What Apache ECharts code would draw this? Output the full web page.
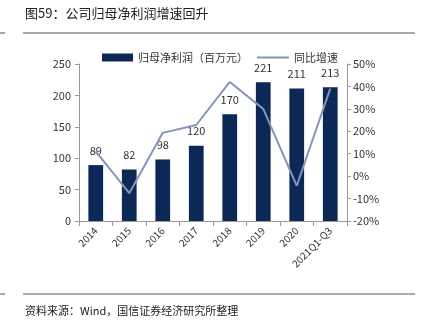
<!DOCTYPE html>
<html><head><meta charset="utf-8">
<script src="https://cdn.jsdelivr.net/npm/echarts@6/dist/echarts.min.js"></script>
<style>html,body{margin:0;padding:0;background:#fff}#c{width:431px;height:322px}</style>
</head><body><div id="c"></div>
<script>
const categories = ['2014','2015','2016','2017','2018','2019','2020','2021Q1-Q3'];
const profit = [89, 82, 98, 120, 170, 221, 211, 213];
const growth = [11, -7.6, 19.3, 22.8, 42, 30, -4.3, 39];
const leftTicks = [0, 50, 100, 150, 200, 250];
const rightTicks = [-20, -10, 0, 10, 20, 30, 40, 50];
const titleText = '图59：公司归母净利润增速回升';
const sourceText = '资料来源：Wind，国信证券经济研究所整理';
const barName = '归母净利润（百万元）';
const lineName = '同比增速';

const chart = echarts.init(document.getElementById('c'), null, {renderer:'canvas'});
const font = '"Noto Sans CJK SC", "Liberation Sans", sans-serif';
chart.setOption({
  animation:false,
  textStyle:{fontFamily:font},
  graphic:[
    {type:'text', left:25, top:7, style:{text:titleText, fontSize:13, fill:'#222', fontFamily:font}},
    {type:'line', shape:{x1:23,y1:33,x2:415,y2:33}, style:{stroke:'#555', lineWidth:1}},
    {type:'line', shape:{x1:0,y1:33,x2:5,y2:33}, style:{stroke:'#555', lineWidth:1}},
    {type:'line', shape:{x1:23,y1:294,x2:415,y2:294}, style:{stroke:'#555', lineWidth:1}},
    {type:'line', shape:{x1:0,y1:294,x2:5,y2:294}, style:{stroke:'#555', lineWidth:1}},
    {type:'text', left:25, top:305, style:{text:sourceText, fontSize:11, fill:'#222', fontFamily:font}}
  ],
  legend:[
    {top:47, left:97, itemWidth:31, itemHeight:8,
     textStyle:{fontSize:11, color:'#333'},
     data:[{name:barName, icon:'rect'}]},
    {top:47, left:252, itemWidth:32, itemHeight:2, itemGap:4,
     textStyle:{fontSize:11, color:'#333'},
     data:[{name:lineName, icon:'rect'}]}
  ],
  grid:{left:79, right:84, top:64, bottom:101},
  xAxis:{
    type:'category', data:categories,
    axisLine:{lineStyle:{color:'#999'}},
    axisTick:{show:true, alignWithLabel:false, length:5, lineStyle:{color:'#999'}},
    axisLabel:{rotate:45, fontSize:10, color:'#333', margin:8, interval:0}
  },
  yAxis:[
    {type:'value', min:0, max:250, interval:50,
     axisLine:{show:true, lineStyle:{color:'#999'}},
     axisTick:{show:true, length:4, lineStyle:{color:'#999'}},
     axisLabel:{fontSize:11, color:'#333', margin:8},
     splitLine:{show:false}},
    {type:'value', min:-20, max:50, interval:10,
     axisLine:{show:true, lineStyle:{color:'#999'}},
     axisTick:{show:true, length:4, lineStyle:{color:'#999'}},
     axisLabel:{fontSize:11, color:'#333', margin:6, formatter:v=>v+'%'},
     splitLine:{show:false}}
  ],
  series:[
    {name:barName, type:'bar', data:profit, barWidth:'44%', yAxisIndex:0,
     itemStyle:{color:'#0b2856'},
     label:{show:true, position:'top', distance:9, fontSize:11, color:'#333'}},
    {name:lineName, type:'line', data:growth, yAxisIndex:1, symbol:'none',
     lineStyle:{color:'#8496b8', width:2}, itemStyle:{color:'#8496b8'}}
  ]
});
</script></body></html>
